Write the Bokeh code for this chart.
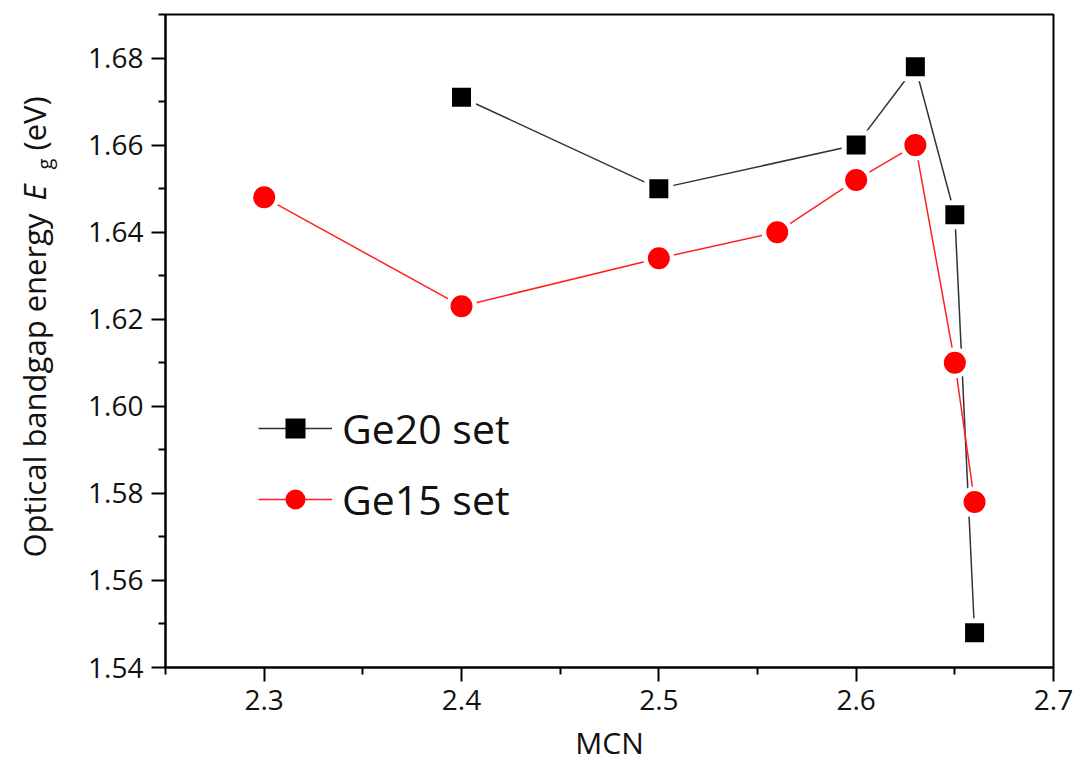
from bokeh.plotting import figure
from bokeh.layouts import row
from bokeh.models import Legend, LegendItem, FixedTicker, Range1d, PrintfTickFormatter, ColumnDataSource
from bokeh.embed import file_html
from bokeh.resources import INLINE
import math

# ---- data ----
ge20_mcn = [2.40, 2.50, 2.60, 2.63, 2.65, 2.66]
ge20_eg = [1.671, 1.650, 1.660, 1.678, 1.644, 1.548]
ge15_mcn = [2.30, 2.40, 2.50, 2.56, 2.60, 2.63, 2.65, 2.66]
ge15_eg = [1.648, 1.623, 1.634, 1.640, 1.652, 1.660, 1.610, 1.578]
x_ticks = [2.3, 2.4, 2.5, 2.6, 2.7]
x_minor = [2.25, 2.35, 2.45, 2.55, 2.65]
y_ticks = [1.54, 1.56, 1.58, 1.60, 1.62, 1.64, 1.66, 1.68]
y_minor = [1.55, 1.57, 1.59, 1.61, 1.63, 1.65, 1.67, 1.69]
series_names = ["Ge20 set", "Ge15 set"]
y_title_parts = ["Optical bandgap energy ", "E", "g", "(eV)"]

X0, X1 = 2.25, 2.70
Y0, Y1 = 1.54, 1.69
W, H = 1081, 761
LW = 70                    # width of the strip holding the y-axis title
FL, FT, FW, FH = 165, 14, 888, 653
FB = H - FT - FH
FONT = "Open Sans"

p = figure(frame_width=FW, frame_height=FH, output_backend="svg", toolbar_location=None,
           x_range=Range1d(X0, X1), y_range=Range1d(Y0, Y1),
           min_border_left=FL - LW, min_border_right=W - FL - FW,
           min_border_top=FT, min_border_bottom=FB)
p.grid.visible = False
p.background_fill_color = "white"
p.border_fill_color = "white"
p.outline_line_color = "black"
p.outline_line_width = 2
p.outline_line_alpha = 1

for ax, ticks, minor, fmt in ((p.xaxis[0], x_ticks, x_minor, "%.1f"), (p.yaxis[0], y_ticks, y_minor, "%.2f")):
    ax.ticker = FixedTicker(ticks=ticks, minor_ticks=minor)
    ax.formatter = PrintfTickFormatter(format=fmt)
    ax.axis_line_width = 2
    ax.axis_line_color = "black"
    ax.major_tick_line_width = 2
    ax.minor_tick_line_width = 2
    ax.major_tick_line_color = "black"
    ax.minor_tick_line_color = "black"
    ax.major_tick_in = 0
    ax.major_tick_out = 14
    ax.minor_tick_in = 0
    ax.minor_tick_out = 7
    ax.major_label_text_font = FONT
    ax.major_label_text_font_size = "28px"
    ax.major_label_text_color = "#111111"
    ax.major_label_standoff = 8

p.xaxis.axis_label = "MCN"
p.xaxis.axis_label_text_font = FONT
p.xaxis.axis_label_text_font_size = "30px"
p.xaxis.axis_label_text_font_style = "normal"
p.xaxis.axis_label_text_color = "#111111"
p.xaxis.axis_label_standoff = 9

# lines
l20 = p.line(ge20_mcn, ge20_eg, line_color="#333333", line_width=1.5)
l15 = p.line(ge15_mcn, ge15_eg, line_color="#ff2020", line_width=1.5)
# white halos to create gaps between lines and markers
p.scatter(ge20_mcn, ge20_eg, marker="square", size=29, fill_color="white", line_color=None)
p.scatter(ge15_mcn, ge15_eg, marker="circle", size=31, fill_color="white", line_color=None)
m20 = p.scatter(ge20_mcn, ge20_eg, marker="square", size=19, fill_color="black", line_color=None)
m15 = p.scatter(ge15_mcn, ge15_eg, marker="circle", size=22, fill_color="#ff0000", line_color=None)

legend = Legend(items=[LegendItem(label=series_names[0], renderers=[l20, m20]),
                       LegendItem(label=series_names[1], renderers=[l15, m15])],
                location=(93, 140), orientation="vertical",
                glyph_width=74, glyph_height=50, label_height=50, spacing=15,
                label_standoff=10, padding=0, margin=0,
                border_line_color=None, background_fill_alpha=0,
                label_text_font=FONT, label_text_font_size="41px",
                label_text_color="#111111", label_text_baseline="middle")
p.add_layout(legend, "center")

# ---- strip with the rotated y-axis title (italic E, subscript g) ----
# its frame is pinned to the same vertical extent as the main frame; ranges are canvas pixels
t = figure(frame_width=LW, frame_height=FH, output_backend="svg", toolbar_location=None,
           x_range=Range1d(0, LW), y_range=Range1d(FT + FH, FT),
           min_border_left=0, min_border_right=0, min_border_top=FT, min_border_bottom=FB,
           outline_line_color=None)
t.axis.visible = False
t.grid.visible = False
t.background_fill_color = "white"
t.border_fill_color = "white"
src = ColumnDataSource(dict(
    text=y_title_parts,
    x=[33, 33, 44, 33],
    y=[557, 200, 169, 150],
    style=["normal", "italic", "normal", "normal"],
    size=["31px", "31px", "20px", "31px"],
))
t.text(x="x", y="y", text="text", source=src, angle=math.pi / 2,
       text_align="left", text_baseline="alphabetic",
       text_font={"value": FONT}, text_font_size="size", text_font_style="style",
       text_color="#111111")

layout = row(t, p, spacing=0)
open("out.html", "w").write(file_html(layout, INLINE))
